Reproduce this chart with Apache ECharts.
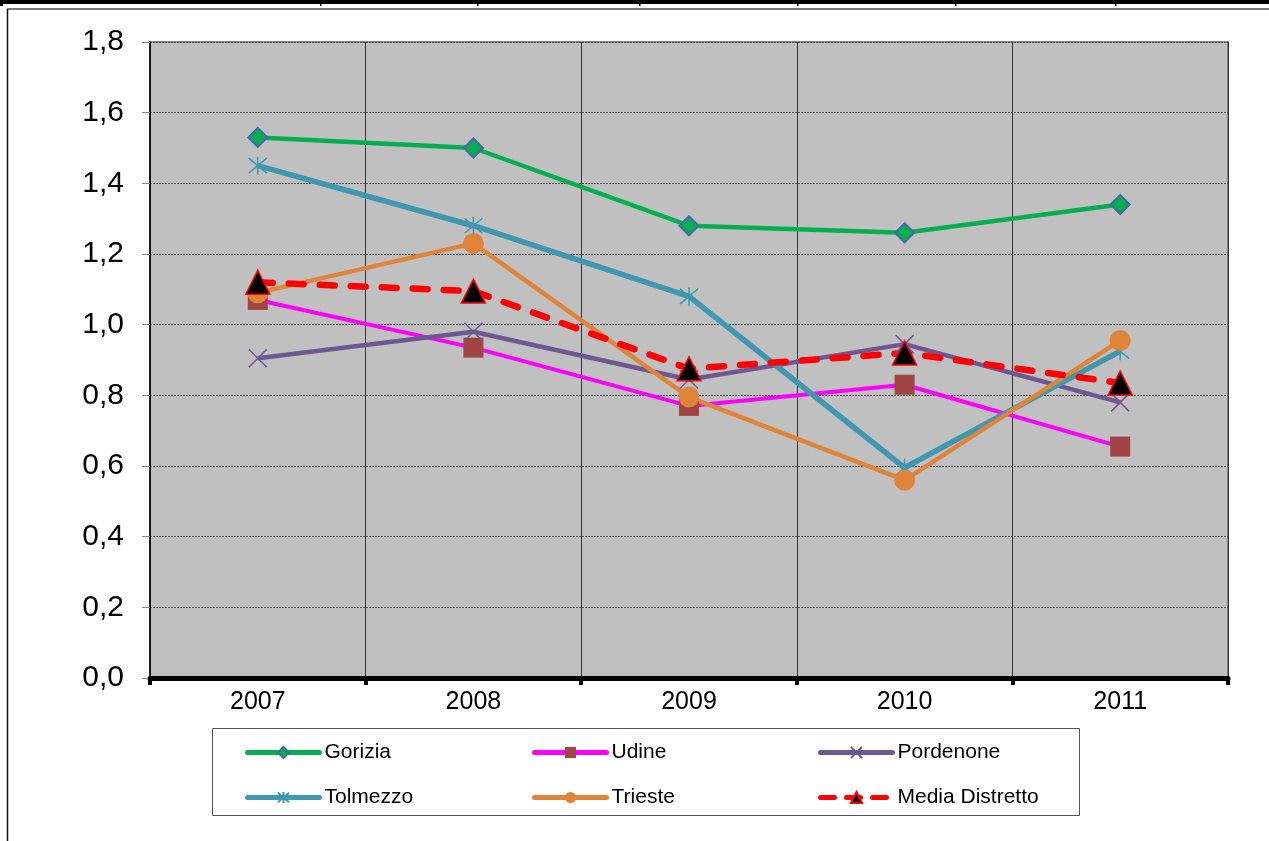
<!DOCTYPE html>
<html>
<head>
<meta charset="utf-8">
<script src="https://cdn.jsdelivr.net/npm/echarts@6/dist/echarts.min.js"></script>
<style>
  html, body { margin: 0; padding: 0; background: #fff; }
  #chart { width: 1269px; height: 841px; }
</style>
</head>
<body>
<div id="chart"></div>
<script>
// data
const years = ['2007', '2008', '2009', '2010', '2011']
const gorizia = [1.53, 1.50, 1.28, 1.26, 1.34]
const udine = [1.07, 0.935, 0.77, 0.83, 0.655]
const pordenone = [0.905, 0.98, 0.845, 0.945, 0.78]
const tolmezzo = [1.45, 1.28, 1.08, 0.595, 0.925]
const trieste = [1.09, 1.23, 0.795, 0.56, 0.955]
const media = [1.12, 1.095, 0.875, 0.92, 0.835]

const FONT = '"Liberation Sans", Arial, sans-serif'
const crossPath = 'path://M0,0L10,10M10,0L0,10'
const starPath = 'path://M0,0L10,10M10,0L0,10M5,-1L5,11'

const chart = echarts.init(document.getElementById('chart'))

function legendAt (name, left, top, lineType) {
  return {
    data: [name],
    left: left,
    top: top,
    itemWidth: 72,
    itemHeight: 14,
    itemGap: 0,
    padding: 0,
    lineStyle: { width: 5, cap: 'round', type: lineType || 'solid' },
    textStyle: { fontSize: 21, color: '#000', fontFamily: FONT, padding: [0, 0, 0, 0] },
  }
}

chart.setOption({
  animation: false,
  textStyle: { fontFamily: FONT },
  grid: {
    left: 150,
    right: 41,
    top: 42,
    bottom: 163,
    show: true,
    backgroundColor: '#c0c0c0',
    borderColor: '#808080',
    borderWidth: 2,
  },
  legend: [
    legendAt('Gorizia', 245, 742),
    legendAt('Udine', 532, 742),
    legendAt('Pordenone', 818, 742),
    legendAt('Tolmezzo', 245, 787),
    legendAt('Trieste', 532, 787),
    legendAt('Media Distretto', 818, 787, [14, 12]),
  ],
  xAxis: {
    type: 'category',
    data: years,
    boundaryGap: true,
    axisLine: { lineStyle: { color: '#000', width: 5 } },
    axisTick: { show: true, length: 7, lineStyle: { color: '#000', width: 4 } },
    axisLabel: { fontSize: 25, color: '#000', margin: 12, fontFamily: FONT },
    splitLine: { show: true, lineStyle: { color: '#333', width: 1 } },
  },
  yAxis: {
    type: 'value',
    min: 0,
    max: 1.8,
    interval: 0.2,
    axisLine: { show: true, lineStyle: { color: '#000', width: 1.5 } },
    axisTick: { show: true, length: 8, lineStyle: { color: '#888' } },
    axisLabel: {
      fontSize: 30,
      color: '#000',
      margin: 26,
      fontFamily: FONT,
      formatter: v => v.toFixed(1).replace('.', ','),
    },
    splitLine: { show: true, lineStyle: { color: '#555', width: 1, type: [2, 1] } },
  },
  series: [
    {
      name: 'Gorizia',
      type: 'line',
      data: gorizia,
      symbol: 'diamond',
      symbolSize: 19,
      lineStyle: { color: '#00b050', width: 4.5 },
      itemStyle: { color: '#00b050', borderColor: '#4a66a8', borderWidth: 2 },
    },
    {
      name: 'Udine',
      type: 'line',
      data: udine,
      symbol: 'rect',
      symbolSize: 20,
      lineStyle: { color: '#ff00ff', width: 4 },
      itemStyle: { color: '#a04444' },
    },
    {
      name: 'Pordenone',
      type: 'line',
      data: pordenone,
      symbol: crossPath,
      symbolSize: 18,
      lineStyle: { color: '#6d5892', width: 4.5 },
      itemStyle: { color: '#6d5892', borderColor: '#6d5892', borderWidth: 1.5 },
    },
    {
      name: 'Tolmezzo',
      type: 'line',
      data: tolmezzo,
      symbol: starPath,
      symbolSize: 18,
      lineStyle: { color: '#3f97b0', width: 5.5 },
      itemStyle: { color: '#3f97b0', borderColor: '#3f97b0', borderWidth: 1.5 },
    },
    {
      name: 'Trieste',
      type: 'line',
      data: trieste,
      symbol: 'circle',
      symbolSize: 21,
      lineStyle: { color: '#e0843a', width: 4.5 },
      itemStyle: { color: '#e0843a' },
    },
    {
      name: 'Media Distretto',
      type: 'line',
      data: media,
      symbol: 'triangle',
      symbolSize: 24,
      lineStyle: { color: '#ff0000', width: 6.5, type: [15, 16], cap: 'round' },
      itemStyle: { color: '#000', borderColor: '#ff0000', borderWidth: 1.5 },
    },
  ],
  graphic: [
    // frame around the chart object
    { type: 'rect', shape: { x: 0, y: 0, width: 1269, height: 4 }, style: { fill: '#000' }, silent: true },
    { type: 'rect', shape: { x: 0, y: 0, width: 3, height: 6 }, style: { fill: '#000' }, silent: true },
    { type: 'rect', shape: { x: 320, y: 0, width: 1.5, height: 6 }, style: { fill: '#000' }, silent: true },
    { type: 'rect', shape: { x: 477, y: 0, width: 1.5, height: 6 }, style: { fill: '#000' }, silent: true },
    { type: 'rect', shape: { x: 639, y: 0, width: 1.5, height: 6 }, style: { fill: '#000' }, silent: true },
    { type: 'rect', shape: { x: 797, y: 0, width: 1.5, height: 6 }, style: { fill: '#000' }, silent: true },
    { type: 'rect', shape: { x: 955, y: 0, width: 1.5, height: 6 }, style: { fill: '#000' }, silent: true },
    { type: 'rect', shape: { x: 1115, y: 0, width: 1.5, height: 6 }, style: { fill: '#000' }, silent: true },
    { type: 'line', shape: { x1: 7, y1: 9, x2: 1269, y2: 9 }, style: { stroke: '#777', lineWidth: 2 }, silent: true },
    { type: 'line', shape: { x1: 7.5, y1: 9, x2: 7.5, y2: 841 }, style: { stroke: '#111', lineWidth: 1.5 }, silent: true },
    // legend box
    { type: 'rect', shape: { x: 212.5, y: 728.5, width: 867, height: 87 }, style: { fill: 'none', stroke: '#555', lineWidth: 1 }, silent: true, z: -1 },
  ],
})
</script>
</body>
</html>
